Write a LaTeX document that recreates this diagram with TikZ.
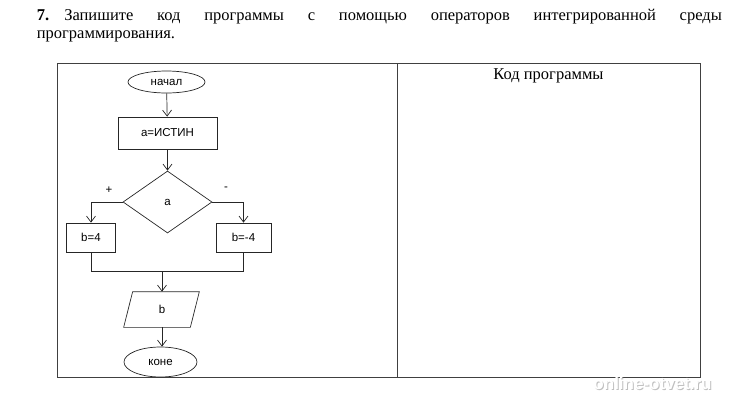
\documentclass[tikz,border=0pt]{standalone}
\usepackage{fontspec}
\setmainfont{Liberation Serif}
\newfontfamily\flowfont{Liberation Sans}
\usetikzlibrary{shapes.geometric,arrows.meta,calc}
\tikzset{
  flow/.style={draw=black!85, line width=0.7pt, font=\flowfont\fontsize{11.5}{13}\selectfont, inner sep=0pt},
  ellbox/.style={flow, ellipse},
  procbox/.style={flow, rectangle},
  decbox/.style={flow, diamond},
  arr/.style={draw=black!85, line width=0.7pt, -{Straight Barb[length=6pt,width=9pt]}},
  lin/.style={draw=black!85, line width=0.7pt},
  frame/.style={draw=black!75, line width=0.9pt},
}
\begin{document}
\begin{tikzpicture}[x=1pt,y=-1pt]
\useasboundingbox (0,0) rectangle (729,400);
% header
\node[anchor=base west, inner sep=0pt, align=left] (hdr) at (36.7,20) {%
  \begin{minipage}[t]{685pt}\fontsize{16.5}{18}\selectfont\hyphenpenalty=10000\sloppy\frenchspacing\noindent
  \textbf{7.}\hspace{15pt}Запишите код программы с помощью операторов интегрированной среды\linebreak
  программирования.\end{minipage}};
% table
\draw[frame] (57,63) rectangle (700,377);
\draw[frame] (397,63) -- (397,377);
\node[anchor=base, inner sep=0pt, font=\fontsize{16.5}{18}\selectfont] (code) at (548.5,79) {Код программы};
% flowchart
\node[ellbox, minimum width=77pt, minimum height=22pt] (start) at (166.5,82) {начал};
\node[procbox, minimum width=99pt, minimum height=32pt] (init) at (167.5,133) {a=ИСТИН};
\node[decbox, minimum width=89pt, minimum height=62pt] (cond) at (167.5,202) {a};
\node[procbox, minimum width=49pt, minimum height=29pt] (bp) at (91,237.5) {b=4};
\node[procbox, minimum width=55pt, minimum height=29pt] (bm) at (243.5,237.5) {b=-4};
\node[flow, draw=none, minimum width=60pt, minimum height=35pt] (out) at (162,309.5) {b};
\draw[lin] ($(out.north west)+(1pt,0)$) -- ($(out.north east)+(7pt,0)$) -- ($(out.south east)+(-2pt,0)$) -- ($(out.south west)+(-8pt,0)$) -- cycle;
\node[ellbox, minimum width=73pt, minimum height=30pt] (stop) at (160.5,362) {коне};
\coordinate (join) at (162,271);
% connectors
\draw[arr] (start) -- (init);
\draw[arr] (init) -- (cond);
\draw[arr] (cond.west) -| (bp.north);
\draw[arr] (cond.east) -| (bm.north);
\draw[lin] (bp.south) -- (bp.south |- join) -- (bm.south |- join) -- (bm.south);
\draw[arr] (join) -- (out.north);
\draw[arr] (out.south) -- (out.south |- stop.north);
\node[font=\flowfont\fontsize{11.5}{13}\selectfont, inner sep=0pt] (plus) at (109,190) {+};
\node[font=\flowfont\fontsize{11.5}{13}\selectfont, inner sep=0pt] (minus) at (226,189) {-};
% watermark
\node[font=\flowfont\bfseries\fontsize{17}{19}\selectfont, text=black!25, inner sep=0pt] (wms) at (653.5,384) {online-otvet.ru};
\node[font=\flowfont\bfseries\fontsize{17}{19}\selectfont, text=white, inner sep=0pt] (wm) at (652.5,383) {online-otvet.ru};
\end{tikzpicture}
\end{document}
